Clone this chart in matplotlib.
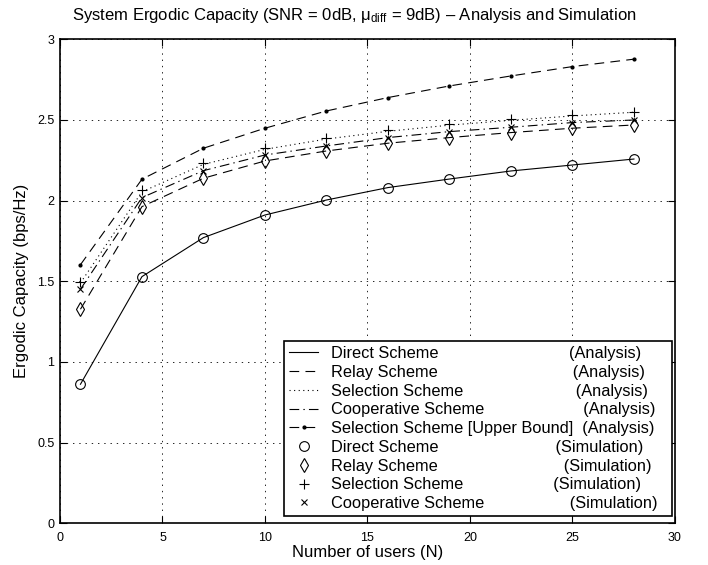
import numpy as np
import matplotlib.pyplot as plt

plt.rcParams['font.family'] = ['Liberation Sans', 'DejaVu Sans']
plt.rcParams['mathtext.fontset'] = 'custom'
plt.rcParams['mathtext.rm'] = 'Liberation Sans'
plt.rcParams['lines.scale_dashes'] = False

# Data
users = [1, 4, 7, 10, 13, 16, 19, 22, 25, 28]

direct_ana = [0.862, 1.529, 1.771, 1.911, 2.004, 2.081, 2.134, 2.184, 2.221, 2.258]
relay_ana = [1.327, 1.963, 2.139, 2.246, 2.308, 2.356, 2.391, 2.422, 2.449, 2.469]
select_ana = [1.49, 2.055, 2.225, 2.318, 2.382, 2.430, 2.468, 2.498, 2.525, 2.548]
coop_ana = [1.451, 2.019, 2.186, 2.283, 2.339, 2.391, 2.428, 2.455, 2.484, 2.500]
upper_ana = [1.603, 2.133, 2.325, 2.449, 2.556, 2.639, 2.711, 2.773, 2.831, 2.877]

direct_sim = [0.862, 1.529, 1.771, 1.911, 2.004, 2.081, 2.134, 2.184, 2.221, 2.258]
relay_sim = [1.327, 1.963, 2.139, 2.246, 2.308, 2.356, 2.391, 2.422, 2.449, 2.469]
select_sim = [1.498, 2.066, 2.236, 2.329, 2.391, 2.438, 2.474, 2.505, 2.531, 2.552]
coop_sim = [1.451, 2.019, 2.186, 2.283, 2.339, 2.391, 2.428, 2.455, 2.484, 2.500]

labels = [
    'Direct Scheme' + ' ' * 29 + '(Analysis)  ',
    'Relay Scheme' + ' ' * 30 + '(Analysis)  ',
    'Selection Scheme' + ' ' * 25 + '(Analysis)  ',
    'Cooperative Scheme' + ' ' * 22 + '(Analysis)  ',
    'Selection Scheme [Upper Bound]  (Analysis)  ',
    'Direct Scheme' + ' ' * 26 + '(Simulation)  ',
    'Relay Scheme' + ' ' * 28 + '(Simulation)  ',
    'Selection Scheme' + ' ' * 20 + '(Simulation)  ',
    'Cooperative Scheme' + ' ' * 19 + '(Simulation)  ',
]

xticks = [0, 5, 10, 15, 20, 25, 30]
yticks = [0, 0.5, 1, 1.5, 2, 2.5, 3]
ytick_labels = ['0', '0.5', '1', '1.5', '2', '2.5', '3']

fig = plt.figure(figsize=(7.08, 5.65), dpi=100)
ax = fig.add_axes([0.0847, 0.0738, 0.8686, 0.8566])

lw = 0.8
ax.plot(users, direct_ana, '-', color='k', lw=lw, label=labels[0])
ax.plot(users, relay_ana, color='k', lw=lw, dashes=(7, 4.5), label=labels[1])
ax.plot(users, select_ana, color='k', lw=lw, dashes=(0.8, 2.5), label=labels[2])
ax.plot(users, coop_ana, color='k', lw=lw, dashes=(7, 3, 1, 3), label=labels[3])
ax.plot(users, upper_ana, color='k', lw=lw, dashes=(7, 4.5), marker='.',
        markersize=4, label=labels[4])
ax.plot(users, direct_sim, 'o', color='k', mfc='none', mew=0.8, ms=7,
        linestyle='none', label=labels[5])
ax.plot(users, relay_sim, 'd', color='k', mfc='none', mew=0.8, ms=7,
        linestyle='none', label=labels[6])
ax.plot(users, select_sim, '+', color='k', mew=0.8, ms=7,
        linestyle='none', label=labels[7])
ax.plot(users, coop_sim, 'x', color='k', mew=0.8, ms=4.5,
        linestyle='none', label=labels[8])

ax.set_xlim(0, 30)
ax.set_ylim(0, 3)
ax.set_xticks(xticks)
ax.set_xticklabels([str(t) for t in xticks])
ax.set_yticks(yticks)
ax.set_yticklabels(ytick_labels)
ax.tick_params(direction='in', top=True, right=True, length=5, width=0.8,
               labelsize=9)
ax.tick_params(axis='x', pad=6)
ax.tick_params(axis='y', pad=4)
for s in ax.spines.values():
    s.set_linewidth(1.2)
ax.grid(True, color='k', linestyle=(0, (1, 3.5)), linewidth=0.6)

ax.set_xlabel('Number of users (N)', fontsize=12, labelpad=1)
ax.set_ylabel('Ergodic Capacity (bps/Hz)', fontsize=12, labelpad=6)
ax.set_title('System Ergodic Capacity (SNR = 0dB, $\\mathregular{\\mu_{diff}}$ = 9dB) \u2013 Analysis and Simulation',
             fontsize=12, pad=14, x=0.478)

leg = ax.legend(loc='lower right', bbox_to_anchor=(0.995, 0.015),
                borderaxespad=0, fontsize=11.8, frameon=True, fancybox=False,
                edgecolor='k', framealpha=1, numpoints=1, handlelength=1.8,
                handletextpad=0.8, labelspacing=0.23, borderpad=0.3)
leg.get_frame().set_linewidth(1.2)

fig.savefig('out.png', dpi=100)
